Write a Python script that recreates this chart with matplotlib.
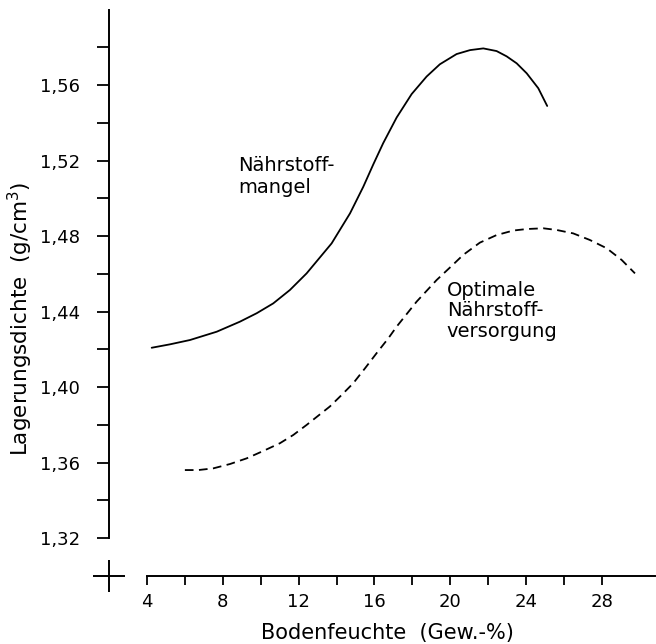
import matplotlib
matplotlib.use("Agg")
import matplotlib.pyplot as plt
from matplotlib.ticker import FixedLocator, FuncFormatter

# ---- data ----
mangel_x = [4.25, 5.21, 6.27, 7.68, 8.90, 9.79, 10.66, 11.54, 12.42, 13.30,
            13.74, 14.71, 15.41, 15.94, 16.46, 17.17, 17.96,
            18.75, 19.45, 20.33, 21.04, 21.74, 22.44, 22.97, 23.50,
            24.03, 24.64, 25.11]
mangel_y = [1.4208, 1.4226, 1.4249, 1.4293, 1.4346, 1.4391, 1.4443, 1.4514,
            1.4602, 1.4708, 1.4761, 1.4920, 1.5061, 1.5180, 1.5292, 1.5428,
            1.5552, 1.5645, 1.5710, 1.5764, 1.5785, 1.5794, 1.5780, 1.5752,
            1.5715, 1.5662, 1.5583, 1.5489]

optimal_x = [6.0, 6.71, 7.5, 8.38, 9.26, 10.13, 11.01, 11.72, 12.42, 13.65,
             14.27, 14.88, 15.50, 16.11, 16.73, 17.17, 18.22, 19.28,
             20.16, 20.68, 21.56, 22.44, 23.32, 24.03, 24.90, 25.61, 26.48,
             27.36, 28.25, 29.04, 29.74]
optimal_y = [1.3560, 1.3560, 1.3569, 1.3592, 1.3622, 1.3661, 1.3702, 1.3746,
             1.3799, 1.3897, 1.3958, 1.4020, 1.4099, 1.4179, 1.4258, 1.4320,
             1.4452, 1.4567, 1.4650, 1.4700, 1.4765, 1.4805, 1.4829,
             1.4837, 1.4841, 1.4832, 1.4814, 1.4779, 1.4735, 1.4673, 1.4602]

x_major = [4, 8, 12, 16, 20, 24, 28]
x_minor = [6, 10, 14, 18, 22, 26]
y_major = [1.32, 1.36, 1.40, 1.44, 1.48, 1.52, 1.56]
y_minor = [1.34, 1.38, 1.42, 1.46, 1.50, 1.54, 1.58]

xlabel = "Bodenfeuchte  (Gew.-%)"
ylabel = "Lagerungsdichte  (g/cm$^3$)"
label_mangel = "Nährstoff-\nmangel"
label_optimal = "Optimale\nNährstoff-\nversorgung"

# ---- figure ----
fig = plt.figure(figsize=(6.56, 6.44), dpi=100)
ax = fig.add_axes([0.1373, 0.04736, 0.8613, 0.9525])
ax.set_xlim(1.0, 30.8)
ax.set_ylim(1.28, 1.605)

fs = 13
ax.plot(mangel_x, mangel_y, color="black", lw=1.3, solid_joinstyle="round",
        solid_capstyle="round")
ax.plot(optimal_x, optimal_y, color="black", lw=1.3, dashes=(4.8, 3.0))

# axes: broken style with origin cross
for s in ("top", "right"):
    ax.spines[s].set_visible(False)
ax.spines["left"].set_position(("data", 2))
ax.spines["left"].set_bounds(1.32, 1.60)
ax.spines["bottom"].set_position(("data", 1.30))
ax.spines["bottom"].set_bounds(4, 30.8)
for s in ("left", "bottom"):
    ax.spines[s].set_linewidth(1.4)
ax.plot(2, 1.30, marker="+", markersize=23, mew=1.4, color="black", clip_on=False)

ax.xaxis.set_major_locator(FixedLocator(x_major))
ax.xaxis.set_minor_locator(FixedLocator(x_minor))
ax.yaxis.set_major_locator(FixedLocator(y_major))
ax.yaxis.set_minor_locator(FixedLocator(y_minor))
ax.yaxis.set_major_formatter(FuncFormatter(lambda v, p: f"{v:.2f}".replace(".", ",")))
ax.tick_params(axis="y", which="both", direction="out", length=9, width=1.3,
               labelsize=fs, pad=12)
ax.tick_params(axis="x", which="both", direction="out", length=6.5, width=1.3,
               labelsize=fs, pad=6)

ax.set_xlabel(xlabel, fontsize=15)
ax.set_ylabel(ylabel, fontsize=15.5)
ax.xaxis.set_label_coords(0.5255, -0.032)
ax.xaxis.label.set_va("center")
ax.yaxis.set_label_coords(-0.124, 0.480)
ax.yaxis.label.set_va("center")

ax.text(8.80, 1.5115, label_mangel, fontsize=14, ha="left", va="center",
        linespacing=1.2)
ax.text(19.82, 1.4403, label_optimal, fontsize=14, ha="left", va="center",
        linespacing=1.1)

fig.savefig("out.png", dpi=100)
